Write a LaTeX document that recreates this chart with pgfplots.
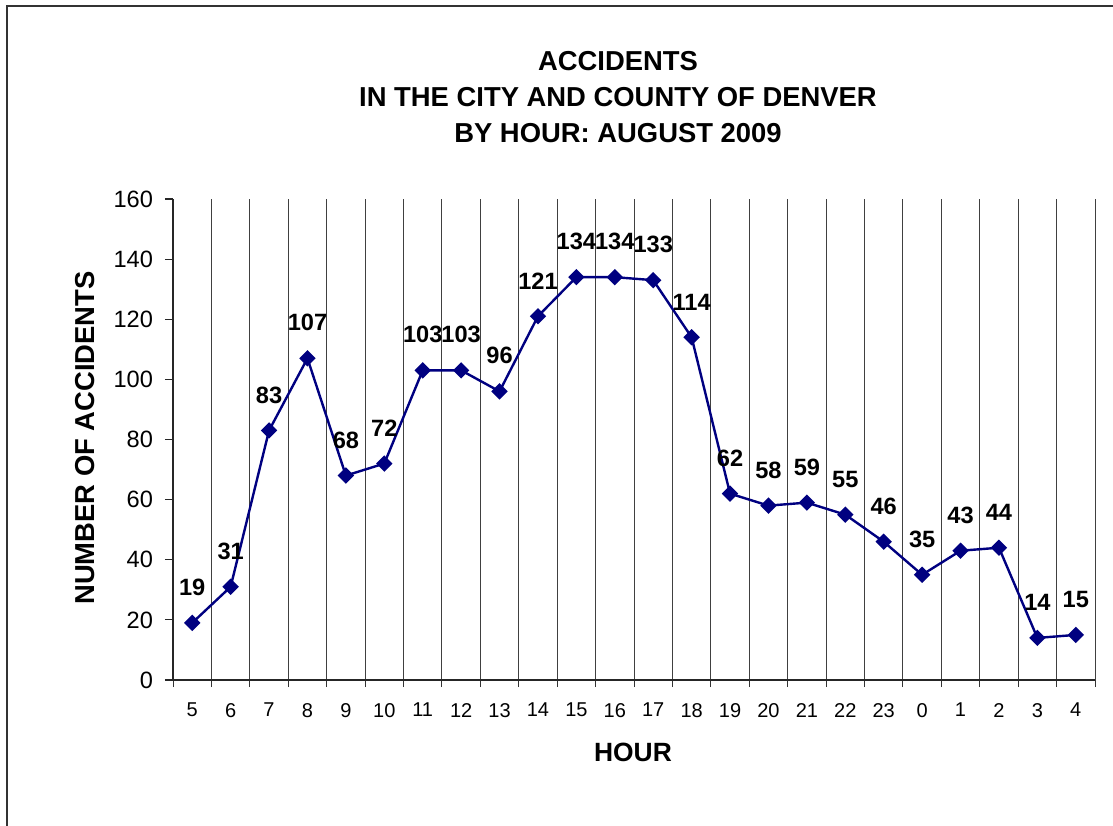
\documentclass[border=0pt]{standalone}
\usepackage{fontspec}
\setmainfont{Liberation Sans}
\usepackage{pgfplots}
\pgfplotsset{compat=1.18}
\definecolor{navyline}{RGB}{0,0,128}
\begin{document}
\begin{tikzpicture}[x=0.5pt,y=0.5pt]
\useasboundingbox (0,0) rectangle (1113,825);
\draw[line width=1pt, black!80] (6.5,-5) -- (6.5,819) -- (1120,819);
\node[font=\fontsize{13.7}{18}\selectfont\bfseries, align=center] at (618,728) {ACCIDENTS\\IN THE CITY AND COUNTY OF DENVER\\BY HOUR: AUGUST 2009};
\node[font=\fontsize{13.7}{16}\selectfont\bfseries, rotate=90] at (85,387) {NUMBER OF ACCIDENTS};
\node[font=\fontsize{13.2}{16}\selectfont\bfseries] at (633,73) {HOUR};
\begin{axis}[
  at={(86.5pt,72.5pt)}, anchor=south west,
  scale only axis, width=461pt, height=240.5pt,
  xmin=-0.5, xmax=23.5, ymin=0, ymax=160,
  axis x line*=bottom, axis y line*=left,
  axis line style={line width=0.8pt, black!85, -},
  tick align=outside,
  major tick length=4pt, minor tick length=3.5pt,
  xtick={0,...,23},
  xticklabels={5,6,7,8,9,10,11,12,13,14,15,16,17,18,19,20,21,22,23,0,1,2,3,4},
  minor xtick={-0.5,0.5,...,23.5},
  major x tick style={draw=none},
  minor x tick style={black!80, line width=0.5pt},
  xminorgrids=true,
  minor grid style={black!75, line width=0.5pt},
  ytick={0,20,...,160},
  y tick style={black!85, line width=0.6pt},
  /pgf/number format/assume math mode=true,
  yticklabel style={font=\fontsize{11.8}{13}\selectfont, xshift=-2.5pt},
  xticklabel style={font=\fontsize{10}{12}\selectfont, yshift=-4pt},
  clip=false,
  nodes near coords,
  every node near coord/.append style={font=\fontsize{11.8}{13}\selectfont\bfseries, anchor=south, inner sep=0pt, yshift=13pt, text=black},
]
\addplot[navyline, line width=1.2pt, mark=square*, mark size=2.3pt, mark options={rotate=45, fill=navyline, draw=navyline}] coordinates {
(0,19) (1,31) (2,83) (3,107) (4,68) (5,72) (6,103) (7,103) (8,96) (9,121) (10,134) (11,134) (12,133) (13,114) (14,62) (15,58) (16,59) (17,55) (18,46) (19,35) (20,43) (21,44) (22,14) (23,15)
};
\end{axis}
\end{tikzpicture}
\end{document}
